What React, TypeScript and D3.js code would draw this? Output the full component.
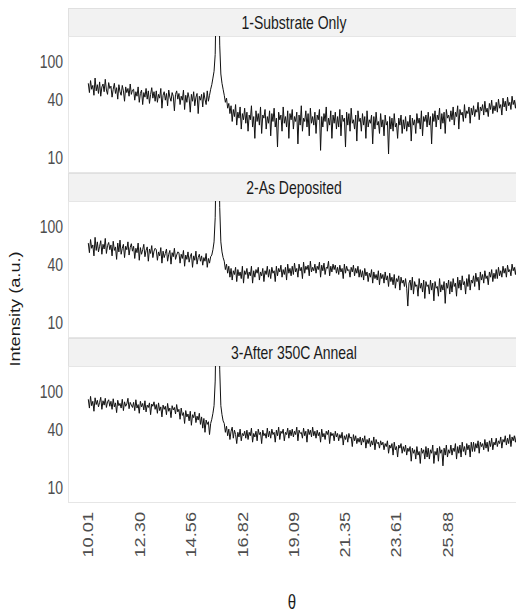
import React from "react";
import * as d3 from "d3";

// ---- Data ----
const panelTitles = ["1-Substrate Only", "2-As Deposited", "3-After 350C Anneal"];
const thetaStart = 10.01;
const thetaStep = 0.05;
const xTickValues = [10.01, 12.3, 14.56, 16.82, 19.09, 21.35, 23.61, 25.88];
const xTickLabels = ["10.01", "12.30", "14.56", "16.82", "19.09", "21.35", "23.61", "25.88"];
const yTickValues = [10, 40, 100];

const substrateOnly = [
  60, 48, 64, 52, 57, 45, 68, 50, 58, 47, 62, 44, 55, 59, 49, 66, 51, 46, 61, 53,
  56, 43, 52, 60, 47, 54, 41, 58, 49, 45, 57, 50, 39, 55, 48, 53, 44, 59, 46, 51,
  52, 40, 49, 44, 55, 38, 47, 51, 36, 48, 43, 53, 41, 50, 37, 46, 54, 42, 49, 39,
  50, 38, 46, 42, 53, 33, 45, 49, 40, 47, 35, 51, 43, 39, 48, 44, 31, 46, 50, 41,
  47, 36, 44, 40, 51, 32, 45, 38, 48, 42, 30, 46, 39, 49, 35, 43, 47, 29, 44, 40,
  46, 34, 48, 41, 36, 50, 39, 45, 52, 58, 68, 80, 120, 600, 3200, 900, 150, 75, 60, 52,
  45, 38, 42, 33, 37, 29, 35, 24, 32, 27, 36, 22, 30, 26, 34, 20, 29, 25, 33, 23,
  30, 19, 28, 25, 35, 21, 27, 16, 31, 24, 29, 22, 34, 18, 28, 26, 32, 20, 27, 23,
  31, 17, 29, 24, 33, 21, 26, 13, 30, 25, 28, 19, 34, 23, 27, 21, 31, 16, 29, 25,
  32, 20, 27, 24, 30, 14, 28, 22, 35, 19, 26, 24, 31, 21, 29, 17, 33, 23, 27, 22,
  30, 18, 28, 25, 32, 12, 27, 21, 29, 24, 34, 19, 26, 22, 31, 16, 28, 23, 30, 20,
  27, 21, 32, 17, 28, 24, 26, 13, 30, 22, 29, 19, 33, 23, 25, 20, 28, 15, 31, 24,
  26, 19, 29, 22, 27, 16, 31, 21, 25, 23, 28, 14, 27, 20, 30, 22, 24, 18, 29, 21,
  25, 17, 28, 22, 24, 11, 27, 20, 26, 19, 29, 21, 23, 16, 26, 22, 28, 18, 25, 20,
  27, 19, 24, 21, 28, 15, 26, 22, 25, 18, 29, 23, 26, 20, 31, 17, 27, 24, 28, 21,
  30, 22, 27, 14, 29, 24, 31, 21, 28, 25, 33, 20, 29, 23, 30, 18, 32, 26, 28, 24,
  31, 25, 34, 22, 30, 27, 35, 20, 32, 28, 30, 24, 36, 26, 31, 29, 34, 23, 33, 28,
  35, 27, 32, 30, 38, 25, 34, 31, 36, 28, 39, 30, 33, 27, 37, 32, 40, 29, 35, 31,
  38, 30, 41, 33, 36, 28, 42, 34, 39, 31, 43, 35, 38, 32, 44, 36, 40, 33, 42, 37,
];

const asDeposited = [
  68, 54, 74, 60, 65, 50, 78, 57, 70, 55, 63, 72, 52, 66, 59, 76, 53, 64, 69, 58,
  65, 50, 71, 57, 62, 46, 68, 55, 73, 52, 60, 66, 48, 63, 58, 70, 51, 61, 67, 56,
  63, 47, 60, 54, 68, 45, 61, 52, 58, 66, 49, 57, 62, 44, 59, 53, 64, 48, 56, 60,
  58, 45, 55, 50, 61, 42, 56, 48, 53, 59, 44, 52, 57, 41, 54, 49, 60, 46, 51, 55,
  54, 42, 52, 47, 57, 39, 51, 46, 55, 43, 49, 53, 38, 50, 45, 56, 41, 48, 52, 44,
  50, 40, 48, 44, 53, 38, 47, 42, 49, 51, 58, 70, 125, 620, 3200, 950, 160, 70, 55, 48,
  44, 36, 41, 33, 39, 30, 37, 28, 35, 32, 38, 27, 36, 31, 34, 29, 39, 26, 35, 32,
  37, 29, 34, 31, 39, 26, 35, 30, 36, 33, 38, 28, 34, 31, 37, 27, 35, 32, 39, 30,
  36, 29, 38, 33, 35, 27, 39, 31, 37, 34, 40, 30, 36, 32, 38, 28, 41, 33, 37, 31,
  39, 32, 42, 34, 37, 30, 41, 35, 38, 29, 43, 33, 39, 36, 40, 31, 44, 34, 38, 35,
  41, 33, 39, 36, 43, 30, 40, 35, 42, 32, 38, 37, 44, 31, 39, 34, 41, 36, 40, 33,
  38, 32, 40, 34, 37, 29, 41, 33, 39, 35, 36, 30, 38, 34, 40, 31, 37, 33, 39, 30,
  36, 30, 35, 28, 37, 31, 34, 27, 33, 30, 36, 26, 34, 29, 32, 28, 35, 25, 33, 29,
  32, 26, 34, 28, 31, 24, 33, 27, 30, 25, 32, 23, 29, 27, 31, 22, 30, 26, 28, 24,
  29, 23, 15, 26, 28, 22, 30, 20, 27, 24, 25, 19, 29, 23, 26, 21, 28, 18, 27, 24,
  25, 20, 28, 22, 26, 17, 27, 23, 24, 19, 29, 21, 25, 22, 27, 16, 26, 23, 28, 20,
  27, 21, 29, 24, 26, 19, 30, 23, 28, 22, 31, 25, 27, 20, 29, 24, 32, 22, 28, 26,
  31, 24, 33, 27, 30, 22, 34, 28, 32, 26, 35, 29, 31, 25, 34, 30, 36, 27, 33, 29,
  36, 29, 38, 31, 35, 30, 39, 33, 37, 30, 40, 34, 36, 31, 41, 35, 38, 32, 40, 36,
];

const afterAnneal = [
  84, 68, 90, 72, 80, 63, 87, 74, 82, 70, 78, 88, 66, 81, 73, 86, 69, 79, 83, 71,
  80, 66, 85, 70, 77, 61, 82, 72, 76, 68, 84, 64, 79, 71, 75, 86, 67, 78, 73, 69,
  78, 64, 83, 68, 74, 60, 80, 70, 76, 65, 81, 62, 73, 69, 77, 58, 75, 71, 79, 66,
  74, 60, 77, 64, 70, 55, 73, 66, 71, 58, 76, 63, 68, 54, 72, 65, 69, 59, 74, 62,
  66, 52, 68, 57, 61, 47, 64, 55, 59, 50, 63, 45, 58, 54, 62, 48, 56, 51, 60, 46,
  55, 42, 53, 38, 51, 46, 49, 36, 47, 52, 60, 72, 130, 650, 3400, 1000, 170, 72, 58, 50,
  47, 38, 44, 35, 41, 32, 39, 43, 33, 40, 36, 29, 38, 34, 41, 31, 37, 35, 39, 33,
  40, 32, 38, 35, 42, 30, 37, 34, 39, 31, 41, 36, 38, 29, 40, 35, 37, 33, 42, 34,
  39, 33, 41, 36, 38, 30, 40, 35, 43, 32, 39, 37, 41, 31, 38, 36, 42, 33, 40, 35,
  41, 34, 39, 36, 43, 31, 40, 37, 38, 33, 42, 35, 39, 30, 41, 36, 40, 34, 43, 35,
  39, 33, 40, 35, 38, 30, 41, 34, 37, 32, 39, 36, 40, 29, 38, 35, 37, 31, 39, 34,
  37, 31, 36, 33, 38, 28, 35, 32, 36, 30, 37, 33, 34, 27, 36, 31, 35, 29, 33, 30,
  34, 28, 33, 30, 35, 26, 32, 29, 33, 27, 31, 28, 34, 25, 32, 29, 30, 26, 31, 28,
  30, 25, 29, 27, 31, 23, 28, 26, 29, 22, 30, 25, 27, 21, 28, 26, 29, 23, 27, 24,
  28, 22, 26, 24, 27, 19, 26, 23, 25, 20, 27, 22, 24, 18, 26, 23, 25, 20, 27, 21,
  26, 20, 25, 23, 28, 18, 24, 22, 26, 19, 27, 23, 25, 17, 26, 22, 28, 21, 25, 23,
  28, 22, 26, 24, 29, 20, 27, 23, 28, 21, 30, 24, 27, 22, 29, 25, 28, 21, 30, 24,
  30, 24, 29, 26, 31, 23, 30, 27, 29, 25, 32, 26, 30, 24, 31, 27, 33, 25, 30, 28,
  33, 27, 31, 29, 34, 26, 32, 30, 35, 28, 33, 29, 36, 27, 34, 31, 35, 30, 36, 33,
];

const seriesList = [substrateOnly, asDeposited, afterAnneal];

// ---- Layout ----
const W = 516;
const H = 615;
const panelLeft = 68;
const panelRight = 520;
const firstTop = 8;
const blockStep = 165;
const stripH = 28;
const plotH = 136;
const stretch = 1.3;
const FONT = "'Liberation Sans', Arial, sans-serif";

const x = d3.scaleLinear().domain([9.115, 29.06]).range([panelLeft, panelRight]);

function SText({ x: tx, y: ty, rotate = 0, children, ...rest }: any) {
  return (
    <text
      transform={`translate(${tx},${ty}) scale(1,${stretch}) rotate(${rotate})`}
      fontFamily={FONT}
      {...rest}
    >
      {children}
    </text>
  );
}

export default function App() {
  return (
    <svg
      width={W}
      height={H}
      viewBox={`0 0 ${W} ${H}`}
      style={{ position: "absolute", left: 0, top: 0, background: "#fff" }}
    >
      <rect x={0} y={0} width={W} height={H} fill="#fff" />
      {seriesList.map((vals, k) => {
        const top = firstTop + k * blockStep;
        const plotTop = top + stripH;
        const y = d3.scaleLog().domain([7.14, 186.6]).range([plotTop + plotH, plotTop]);
        const pts: [number, number][] = vals.map((v, i) => [thetaStart + i * thetaStep, v]);
        const line = d3
          .line<[number, number]>()
          .x((d) => x(d[0]))
          .y((d) => y(d[1]));
        const clipId = `clip${k}`;
        return (
          <g key={k}>
            <defs>
              <clipPath id={clipId}>
                <rect x={panelLeft} y={plotTop} width={panelRight - panelLeft} height={plotH} />
              </clipPath>
            </defs>
            <rect
              x={panelLeft + 0.5}
              y={top + 0.5}
              width={panelRight - panelLeft}
              height={stripH}
              fill="#f2f2f2"
              stroke="#e0e0e0"
              strokeWidth={1}
            />
            <SText
              x={(panelLeft + panelRight) / 2}
              y={top + stripH / 2 + 6.5}
              textAnchor="middle"
              fontSize={14}
              fill="#1a1a1a"
            >
              {panelTitles[k]}
            </SText>
            <rect
              x={panelLeft + 0.5}
              y={plotTop + 0.5}
              width={panelRight - panelLeft}
              height={plotH}
              fill="#fff"
              stroke="#e6e6e6"
              strokeWidth={1}
            />
            <path
              d={line(pts) || ""}
              fill="none"
              stroke="#111"
              strokeWidth={1}
              strokeLinejoin="round"
              clipPath={`url(#${clipId})`}
            />
            {yTickValues.map((t) => (
              <SText
                key={t}
                x={63}
                y={y(t) + 6}
                textAnchor="end"
                fontSize={14}
                fill="#4d4d4d"
              >
                {t}
              </SText>
            ))}
          </g>
        );
      })}
      {xTickValues.map((t, i) => (
        <SText
          key={t}
          x={x(t) + 5}
          y={512}
          rotate={-90}
          textAnchor="end"
          fontSize={14}
          fill="#4d4d4d"
        >
          {xTickLabels[i]}
        </SText>
      ))}
      <SText x={292} y={609} textAnchor="middle" fontSize={15} fill="#1a1a1a">
        θ
      </SText>
      <SText x={20} y={309} rotate={-90} textAnchor="middle" fontSize={14} fill="#1a1a1a">
        Intensity (a.u.)
      </SText>
    </svg>
  );
}
